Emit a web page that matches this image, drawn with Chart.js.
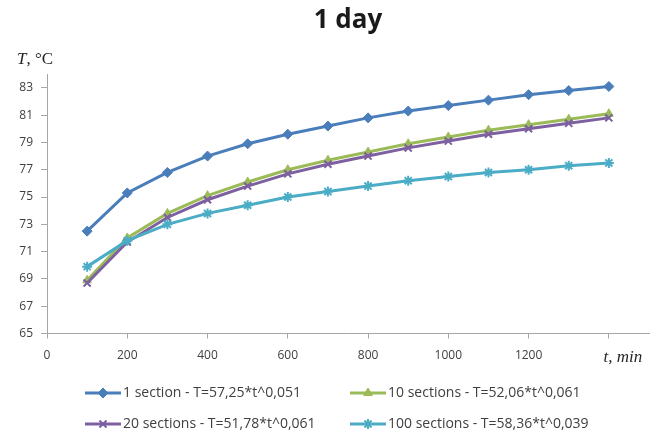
<!DOCTYPE html>
<html>
<head>
<meta charset="utf-8">
<script src="https://cdn.jsdelivr.net/npm/chart.js@4.4.1/dist/chart.umd.min.js"></script>
<style>
  html, body { margin: 0; padding: 0; background: #ffffff; }
  #wrap { position: relative; width: 656px; height: 436px; }
</style>
</head>
<body>
<div id="wrap"><canvas id="c" width="656" height="436"></canvas></div>
<script>
// ---- data ----
const chartTitle = '1 day';
const timeMin = [100, 200, 300, 400, 500, 600, 700, 800, 900, 1000, 1100, 1200, 1300, 1400];
const seriesNames = [
  '1 section - T=57,25*t^0,051',
  '10 sections - T=52,06*t^0,061',
  '20 sections - T=51,78*t^0,061',
  '100 sections - T=58,36*t^0,039'
];
const oneSection      = [72.5, 75.3, 76.8, 78.0, 78.9, 79.6, 80.2, 80.8, 81.3, 81.7, 82.1, 82.5, 82.8, 83.1];
const tenSections     = [68.9, 72.0, 73.8, 75.1, 76.1, 77.0, 77.7, 78.3, 78.9, 79.4, 79.9, 80.3, 80.7, 81.1];
const twentySections  = [68.7, 71.7, 73.5, 74.8, 75.8, 76.7, 77.4, 78.0, 78.6, 79.1, 79.6, 80.0, 80.4, 80.8];
const hundredSections = [69.9, 71.8, 73.0, 73.8, 74.4, 75.0, 75.4, 75.8, 76.2, 76.5, 76.8, 77.0, 77.3, 77.5];
const yTickValues = [65, 67, 69, 71, 73, 75, 77, 79, 81, 83];
const xTickValues = [0, 200, 400, 600, 800, 1000, 1200, 1400];
const xTickLabels = ['0', '200', '400', '600', '800', '1000', '1200', ''];
const yAxisName = ['T', ', \u00B0C'];
const xAxisName = 't, min';

const colors = ['#4A7EBB', '#9BBB59', '#7D60A0', '#4BACC6'];
const styles = ['rectRot', 'triangle', 'crossRot', 'star'];
const radii  = [5, 5, 5, 5];
const allSeries = [oneSection, tenSections, twentySections, hundredSections];

const datasets = allSeries.map((vals, i) => ({
  label: seriesNames[i],
  data: vals.map((v, k) => ({ x: timeMin[k], y: v })),
  borderColor: colors[i],
  backgroundColor: colors[i],
  pointBackgroundColor: colors[i],
  pointBorderColor: colors[i],
  borderWidth: 3,
  pointStyle: styles[i],
  pointRadius: radii[i],
  pointBorderWidth: (styles[i] === 'crossRot' || styles[i] === 'star') ? 2 : 1,
  tension: 0,
  fill: false,
  order: 4 - i
}));

const AXIS_COLOR = '#A6A6A6';
const TEXT_COLOR = '#404040';
const TICK_FONT = { family: 'Open Sans', size: 12 };

const decorPlugin = {
  id: 'decor',
  afterDraw(chart) {
    const ctx = chart.ctx;
    const xs = chart.scales.x;
    ctx.save();
    // y-axis name "T, °C"
    ctx.fillStyle = '#262626';
    ctx.textBaseline = 'alphabetic';
    ctx.textAlign = 'left';
    ctx.font = 'italic 17px "Liberation Serif"';
    let x0 = 17;
    ctx.fillText(yAxisName[0], x0, 64);
    x0 += ctx.measureText(yAxisName[0]).width;
    ctx.font = '17px "Liberation Serif"';
    ctx.fillText(yAxisName[1], x0, 64);
    // x-axis name in place of last tick label
    ctx.font = 'italic 17px "Liberation Serif"';
    ctx.textAlign = 'center';
    ctx.fillText(xAxisName, xs.getPixelForValue(1400) + 14, 362);

    // legend, two columns
    const colX = [85, 350];
    const rowY = [393, 424];
    chart.data.datasets.forEach((ds, i) => {
      const lx = colX[i % 2];
      const ly = rowY[Math.floor(i / 2)];
      ctx.strokeStyle = ds.borderColor;
      ctx.lineWidth = 3;
      ctx.beginPath();
      ctx.moveTo(lx, ly);
      ctx.lineTo(lx + 36, ly);
      ctx.stroke();
      ctx.fillStyle = ds.borderColor;
      ctx.strokeStyle = ds.borderColor;
      ctx.lineWidth = ds.pointBorderWidth;
      Chart.helpers.drawPoint(ctx, { pointStyle: ds.pointStyle, radius: ds.pointRadius, borderWidth: ds.pointBorderWidth, rotation: 0 }, lx + 18, ly);
      ctx.fillStyle = TEXT_COLOR;
      ctx.font = '14px "Open Sans"';
      ctx.textAlign = 'left';
      ctx.textBaseline = 'middle';
      ctx.fillText(ds.label, lx + 38, ly);
    });
    ctx.restore();
  }
};

new Chart(document.getElementById('c'), {
  type: 'line',
  data: { datasets },
  plugins: [decorPlugin],
  options: {
    responsive: false,
    animation: false,
    devicePixelRatio: 1,
    layout: { padding: { left: 0, right: 2, top: 0, bottom: 0 } },
    plugins: {
      legend: { display: false },
      tooltip: { enabled: false },
      title: {
        display: true,
        fullSize: false,
        text: chartTitle,
        color: '#1a1a1a',
        font: { family: 'Open Sans', size: 26, weight: 'bold', lineHeight: 1.2 },
        padding: { top: 5, bottom: 38 }
      }
    },
    scales: {
      x: {
        type: 'linear',
        min: 0,
        max: 1500,
        afterBuildTicks: (axis) => { axis.ticks = xTickValues.map(v => ({ value: v })); },
        afterFit: (axis) => { axis.height = 102.5; },
        ticks: {
          color: TEXT_COLOR,
          font: TICK_FONT,
          padding: 10,
          maxRotation: 0,
          autoSkip: false,
          callback: (v) => { const k = xTickValues.indexOf(v); return k >= 0 ? xTickLabels[k] : ''; }
        },
        grid: { display: true, drawOnChartArea: false, drawTicks: true, tickLength: 5, color: AXIS_COLOR },
        border: { display: true, color: AXIS_COLOR, width: 1 }
      },
      y: {
        type: 'linear',
        min: 65,
        max: 84,
        afterBuildTicks: (axis) => { axis.ticks = yTickValues.map(v => ({ value: v })); },
        afterFit: (axis) => { axis.width = 47; },
        ticks: {
          color: TEXT_COLOR,
          font: TICK_FONT,
          padding: 8,
          autoSkip: false,
          callback: (v) => String(v)
        },
        grid: { display: true, drawOnChartArea: false, drawTicks: true, tickLength: 6, color: AXIS_COLOR },
        border: { display: true, color: AXIS_COLOR, width: 1 }
      }
    }
  }
});
</script>
</body>
</html>
